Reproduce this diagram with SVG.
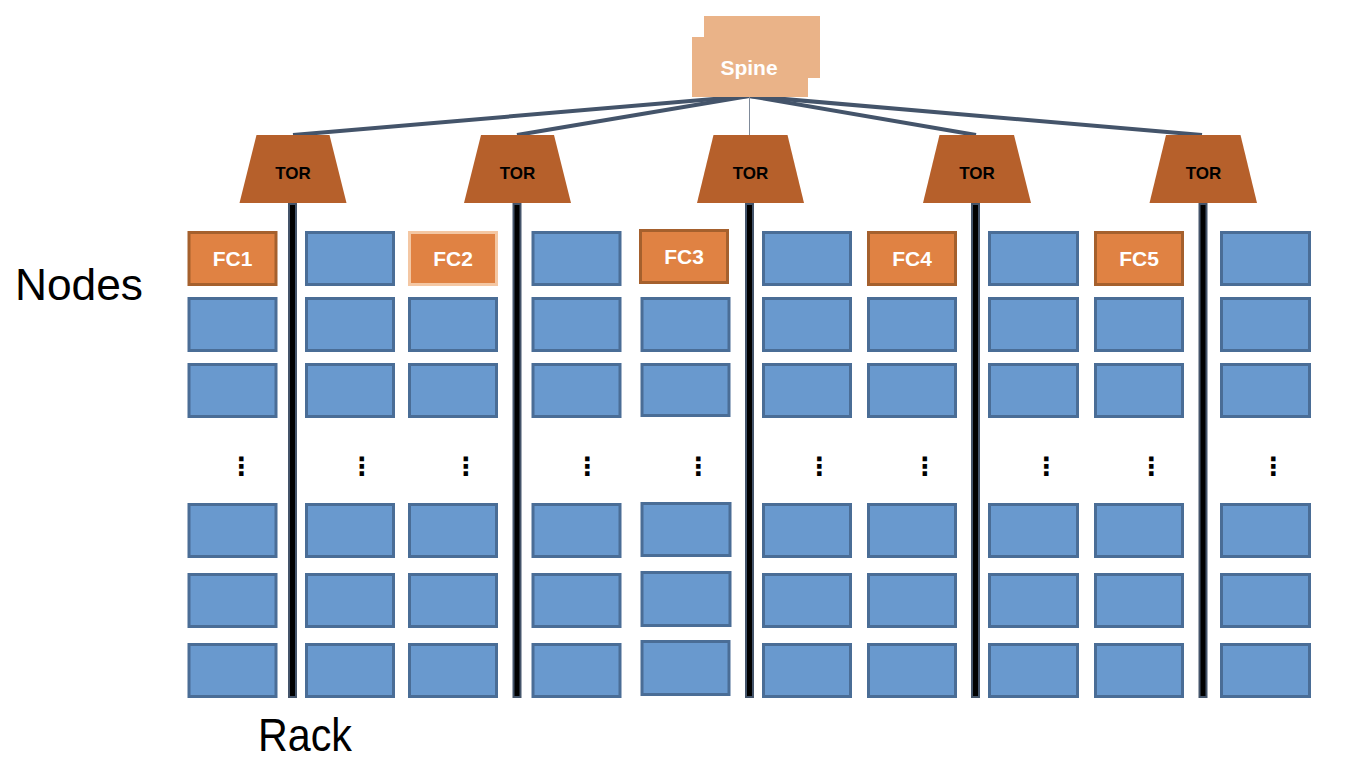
<svg xmlns="http://www.w3.org/2000/svg" width="1349" height="771" viewBox="0 0 1349 771">
<style>
.node{fill:#6999CE;stroke:#4A6D96;stroke-width:3}
.fc{fill:#E08243;stroke:#A5602D;stroke-width:3}
.fct{font-family:"Liberation Sans",Arial,sans-serif;font-weight:bold;font-size:21px;fill:#FFFFFF;text-anchor:middle}
.tor{fill:#B6602B}
.tort{font-family:"Liberation Sans",Arial,sans-serif;font-weight:bold;font-size:17px;fill:#000000;text-anchor:middle}
.spine{fill:#EAB388}
.rack{fill:#000000;stroke:#44546A;stroke-width:2}
.link{stroke:#44546A;stroke-width:4;fill:none;stroke-linecap:butt}
.dots{font-family:"DejaVu Sans",sans-serif;font-weight:bold;font-size:25px;fill:#000000;text-anchor:middle}
.label{font-family:"Liberation Sans",Arial,sans-serif;font-size:44px;fill:#000000}
</style>
<rect width="1349" height="771" fill="#FFFFFF"/>
<g id="connectors">
<line class="link" x1="749" y1="96" x2="293" y2="135"/>
<line class="link" x1="749" y1="96" x2="517" y2="135"/>
<line class="link" x1="749" y1="96" x2="976" y2="135"/>
<line class="link" x1="749" y1="96" x2="1202" y2="135"/>
<line x1="749.5" y1="96" x2="749.5" y2="136" stroke="#7F8A99" stroke-width="1"/>
</g>
<g id="spine">
<rect class="spine" x="704" y="16" width="116" height="62"/>
<rect class="spine" x="692" y="37" width="116" height="60"/>
<text x="749" y="75" font-family="'Liberation Sans',Arial,sans-serif" font-weight="bold" font-size="21" fill="#FFFFFF" text-anchor="middle">Spine</text>
</g>
<g id="tor1"><polygon class="tor" points="256.5,135 329.5,135 346.5,203 239.5,203"/><text class="tort" x="293" y="179">TOR</text></g>
<g id="tor2"><polygon class="tor" points="481,135 554,135 571,203 464,203"/><text class="tort" x="517.5" y="179">TOR</text></g>
<g id="tor3"><polygon class="tor" points="713.5,135 787.5,135 804,203 697,203"/><text class="tort" x="750.5" y="179">TOR</text></g>
<g id="tor4"><polygon class="tor" points="939.5,135 1014,135 1031,203 923,203"/><text class="tort" x="977" y="179">TOR</text></g>
<g id="tor5"><polygon class="tor" points="1166,135 1240.5,135 1257,203 1149.5,203"/><text class="tort" x="1203.5" y="179">TOR</text></g>
<g id="racks">
<rect class="rack" x="289" y="204" width="7" height="493"/>
<rect class="rack" x="513.5" y="204" width="7" height="493"/>
<rect class="rack" x="746" y="204" width="7" height="493"/>
<rect class="rack" x="972" y="204" width="7" height="493"/>
<rect class="rack" x="1199.5" y="204" width="7" height="493"/>
</g>
<g id="fc1"><rect class="fc" x="189" y="232.5" width="87" height="52"/><text class="fct" x="232.5" y="266">FC1</text></g>
<g id="fc2"><rect class="fc" x="409.5" y="232.5" width="87" height="52" style="stroke:#F4C7A3"/><text class="fct" x="453" y="266">FC2</text></g>
<g id="fc3"><rect class="fc" x="640.5" y="230.5" width="87" height="52"/><text class="fct" x="684" y="264">FC3</text></g>
<g id="fc4"><rect class="fc" x="868.5" y="232.5" width="87" height="52"/><text class="fct" x="912" y="266">FC4</text></g>
<g id="fc5"><rect class="fc" x="1095.5" y="232.5" width="87" height="52"/><text class="fct" x="1139" y="266">FC5</text></g>
<g id="nodes">
<rect class="node" x="306.5" y="232.5" width="87" height="52"/>
<rect class="node" x="533" y="232.5" width="87" height="52"/>
<rect class="node" x="763.5" y="232.5" width="87" height="52"/>
<rect class="node" x="989.5" y="232.5" width="88" height="52"/>
<rect class="node" x="1221.5" y="232.5" width="88" height="52"/>
<g id="row2">
<rect class="node" x="189" y="298.5" width="87" height="52"/>
<rect class="node" x="306.5" y="298.5" width="87" height="52"/>
<rect class="node" x="409.5" y="298.5" width="87" height="52"/>
<rect class="node" x="533" y="298.5" width="87" height="52"/>
<rect class="node" x="642" y="298.5" width="87" height="52"/>
<rect class="node" x="763.5" y="298.5" width="87" height="52"/>
<rect class="node" x="868.5" y="298.5" width="87" height="52"/>
<rect class="node" x="989.5" y="298.5" width="88" height="52"/>
<rect class="node" x="1095.5" y="298.5" width="87" height="52"/>
<rect class="node" x="1221.5" y="298.5" width="88" height="52"/>
</g>
<g id="row3">
<rect class="node" x="189" y="364.5" width="87" height="52"/>
<rect class="node" x="306.5" y="364.5" width="87" height="52"/>
<rect class="node" x="409.5" y="364.5" width="87" height="52"/>
<rect class="node" x="533" y="364.5" width="87" height="52"/>
<rect class="node" x="642" y="364.5" width="87" height="51"/>
<rect class="node" x="763.5" y="364.5" width="87" height="52"/>
<rect class="node" x="868.5" y="364.5" width="87" height="52"/>
<rect class="node" x="989.5" y="364.5" width="88" height="52"/>
<rect class="node" x="1095.5" y="364.5" width="87" height="52"/>
<rect class="node" x="1221.5" y="364.5" width="88" height="52"/>
</g>
<g id="row4">
<rect class="node" x="189" y="504.5" width="87" height="52"/>
<rect class="node" x="306.5" y="504.5" width="87" height="52"/>
<rect class="node" x="409.5" y="504.5" width="87" height="52"/>
<rect class="node" x="533" y="504.5" width="87" height="52"/>
<rect class="node" x="642" y="503.5" width="88" height="52"/>
<rect class="node" x="763.5" y="504.5" width="87" height="52"/>
<rect class="node" x="868.5" y="504.5" width="87" height="52"/>
<rect class="node" x="989.5" y="504.5" width="88" height="52"/>
<rect class="node" x="1095.5" y="504.5" width="87" height="52"/>
<rect class="node" x="1221.5" y="504.5" width="88" height="52"/>
</g>
<g id="row5">
<rect class="node" x="189" y="574.5" width="87" height="52"/>
<rect class="node" x="306.5" y="574.5" width="87" height="52"/>
<rect class="node" x="409.5" y="574.5" width="87" height="52"/>
<rect class="node" x="533" y="574.5" width="87" height="52"/>
<rect class="node" x="642" y="572.5" width="88" height="53"/>
<rect class="node" x="763.5" y="574.5" width="87" height="52"/>
<rect class="node" x="868.5" y="574.5" width="87" height="52"/>
<rect class="node" x="989.5" y="574.5" width="88" height="52"/>
<rect class="node" x="1095.5" y="574.5" width="87" height="52"/>
<rect class="node" x="1221.5" y="574.5" width="88" height="52"/>
</g>
<g id="row6">
<rect class="node" x="189" y="644.5" width="87" height="52"/>
<rect class="node" x="306.5" y="644.5" width="87" height="52"/>
<rect class="node" x="409.5" y="644.5" width="87" height="52"/>
<rect class="node" x="533" y="644.5" width="87" height="52"/>
<rect class="node" x="642" y="641.5" width="87" height="53"/>
<rect class="node" x="763.5" y="644.5" width="87" height="52"/>
<rect class="node" x="868.5" y="644.5" width="87" height="52"/>
<rect class="node" x="989.5" y="644.5" width="88" height="52"/>
<rect class="node" x="1095.5" y="644.5" width="87" height="52"/>
<rect class="node" x="1221.5" y="644.5" width="88" height="52"/>
</g>
</g>
<g id="ellipses">
<text class="dots" x="241.5" y="475">⋮</text>
<text class="dots" x="362" y="475">⋮</text>
<text class="dots" x="466" y="475">⋮</text>
<text class="dots" x="587.5" y="475">⋮</text>
<text class="dots" x="698.5" y="475">⋮</text>
<text class="dots" x="819.5" y="475">⋮</text>
<text class="dots" x="925" y="475">⋮</text>
<text class="dots" x="1046.5" y="475">⋮</text>
<text class="dots" x="1151.5" y="475">⋮</text>
<text class="dots" x="1273.5" y="475">⋮</text>
</g>
<g id="labels">
<text class="label" x="15" y="300" textLength="128" lengthAdjust="spacingAndGlyphs">Nodes</text>
<text class="label" x="258" y="751" textLength="94" lengthAdjust="spacingAndGlyphs" style="font-size:46px">Rack</text>
</g>
</svg>
